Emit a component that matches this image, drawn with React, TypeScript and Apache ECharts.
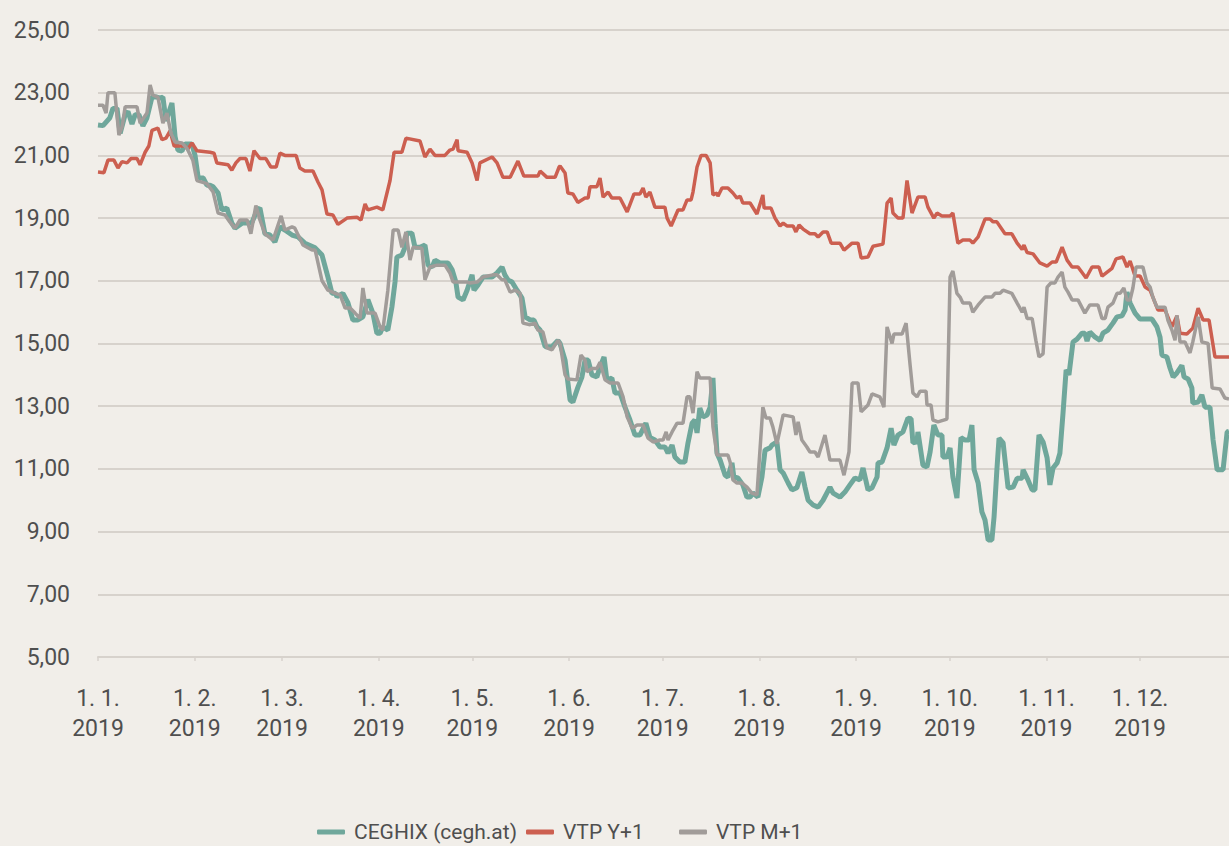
import React, { useEffect, useRef } from "react";
import * as echarts from "echarts";

// Day index (0 = 1 Jan 2019) of the first day of each month
const monthStarts = [0, 31, 59, 90, 120, 151, 181, 212, 243, 273, 304, 334];
const monthLabels = ["1. 1.", "1. 2.", "1. 3.", "1. 4.", "1. 5.", "1. 6.", "1. 7.", "1. 8.", "1. 9.", "1. 10.", "1. 11.", "1. 12."];
const yearLabel = "2019";

const seriesNames = ["CEGHIX (cegh.at)", "VTP Y+1", "VTP M+1"];

// [day of year, EUR/MWh]
const ceghix: [number, number][] = [
  [0,21.97],[1.6,21.95],[3.8,22.2],[4.8,22.5],[6.1,22.5],[7.1,21.7],[8.7,22.3],[9.6,22.4],[10.9,22.0],[11.9,22.3],[13.1,22.3],[14.4,21.94],[15.7,22.2],[17.3,22.86],[18.9,22.86],[19.9,22.83],[20.8,22.86],[21.8,22.1],[23.7,22.67],[24.7,21.6],[25.6,21.17],[26.9,21.14],[27.9,21.36],[30.1,21.36],[31.1,21.0],[32.1,20.3],[33.7,20.28],[34.9,20.05],[35.9,20.05],[36.9,20.0],[38.5,19.8],[39.7,19.26],[41.3,19.32],[42.9,18.84],[43.9,18.68],[46.2,18.84],[47.8,18.84],[49.4,18.87],[51,19.26],[51.9,19.32],[53.5,18.5],[55.1,18.46],[56.7,18.24],[58.3,18.72],[59.9,18.62],[62.2,18.46],[64.1,18.4],[66.3,18.2],[69.6,18.05],[71.8,17.82],[73.7,17.12],[75,16.6],[76,16.6],[76.6,16.5],[78.5,16.6],[80.1,16.3],[81.7,15.75],[83.3,15.75],[84.9,15.85],[86.5,16.4],[88.1,15.97],[89.4,15.33],[90.4,15.33],[91.3,15.53],[92.9,15.43],[94.2,16.16],[95.2,16.96],[95.8,17.76],[97.4,17.82],[98.4,18.07],[99,18.52],[100.6,18.52],[101.6,18.07],[103.2,18.07],[104.8,18.14],[105.8,17.5],[107.1,17.44],[108,17.66],[109.6,17.57],[112.2,17.57],[113.5,17.35],[114.7,16.96],[115.4,16.48],[117,16.39],[118.3,16.7],[119.9,17.19],[120.5,16.7],[121.8,16.87],[123.4,17.12],[126.3,17.12],[127.9,17.25],[129.5,17.44],[130.4,17.19],[131.4,17.03],[132.7,16.96],[134.3,16.7],[135.9,16.45],[136.9,15.85],[138.5,15.75],[139.7,15.75],[140.7,15.53],[141.7,15.43],[143.3,14.9],[145.5,14.9],[147.4,15.1],[148.1,15.0],[149.7,14.47],[151.3,13.2],[152.2,13.13],[153.8,13.6],[155.1,13.93],[156.1,14.47],[157.1,14.47],[158.3,14.0],[159.9,13.93],[160.9,14.25],[162.2,14.57],[163.1,13.84],[164.7,13.9],[165.7,13.42],[167.3,13.42],[168.9,12.97],[170.5,12.56],[172.1,12.08],[173.7,12.08],[175.6,12.46],[176.9,12.0],[178.5,11.92],[180.1,11.7],[181.7,11.7],[182.7,11.5],[184,11.76],[184.9,11.38],[186.5,11.22],[188.1,11.22],[189.1,11.83],[190.4,12.46],[191.3,12.56],[192,12.15],[192.9,12.94],[193.9,12.66],[195.2,12.72],[196.2,12.97],[197.1,13.9],[197.8,12.46],[198.4,11.5],[199.4,11.28],[201,10.8],[201.9,10.74],[203.2,11.19],[203.8,10.74],[205.1,10.71],[206.7,10.49],[208,10.1],[209,10.1],[209.9,10.23],[211.5,10.1],[212.8,10.74],[213.8,11.6],[215.4,11.67],[216,11.76],[217.6,11.86],[218.6,10.97],[219.6,10.87],[221.2,10.55],[222.4,10.33],[224,10.4],[225.6,10.9],[226.6,10.42],[227.6,10.0],[229.2,9.85],[230.8,9.78],[232.4,10.0],[234.6,10.42],[235.6,10.23],[237.8,10.1],[239.4,10.26],[241,10.49],[242.6,10.71],[244.2,10.65],[245.2,11.03],[246.8,10.33],[248.1,10.4],[249.7,10.74],[250,11.19],[251.3,11.22],[252.9,11.67],[254.2,12.3],[255.1,11.76],[256.4,12.08],[258,12.18],[259.6,12.62],[260.6,12.6],[261.2,11.83],[262.5,11.86],[262.8,12.18],[264.4,11.12],[265.7,11.06],[266.7,11.54],[267.9,12.4],[269.2,12.08],[270.5,12.08],[270.8,11.38],[272.1,11.38],[273.1,11.67],[274,10.74],[275.3,10.07],[276.6,12.0],[277.9,11.92],[279.2,11.92],[280.1,12.4],[280.8,10.97],[282.1,10.55],[283.3,9.63],[284.3,9.37],[285.3,8.73],[286.5,8.73],[287.2,9.47],[288.1,10.97],[288.8,11.98],[290.1,11.83],[291.7,10.39],[293.3,10.42],[294.6,10.7],[296.2,10.7],[296.5,10.97],[298.1,10.64],[299.4,10.33],[300.3,10.33],[301.6,12.08],[302.9,11.86],[304.2,11.35],[305.1,10.49],[306.1,11.03],[307.4,11.19],[308.3,11.5],[309.3,12.78],[310.3,14.16],[311.2,14.0],[312.5,15.05],[313.8,15.14],[315.4,15.33],[316.3,15.33],[317,15.08],[317.9,15.37],[319.6,15.2],[321.2,15.1],[322.1,15.33],[323.7,15.43],[325.3,15.65],[326.6,15.85],[328.2,15.88],[329.2,16.07],[329.8,16.64],[330.8,16.29],[332.4,15.97],[334,15.78],[337.8,15.78],[339.4,15.53],[340.4,15.2],[341,14.63],[342.6,14.57],[343.6,14.22],[344.6,13.93],[345.8,14.06],[347.4,14.3],[348.1,13.93],[349.4,13.87],[350.6,13.58],[350.9,13.1],[352.6,13.13],[353.8,13.36],[354.8,12.97],[356.4,12.97],[357.4,11.92],[358.7,10.97],[360.6,10.97],[361.9,12.18],[362.5,12.2]
];

const vtpY1: [number, number][] = [
  [0,20.47],[1.9,20.45],[3.2,20.85],[5.1,20.85],[6.4,20.6],[7.7,20.8],[9.3,20.76],[10.6,20.9],[12.5,20.9],[13.5,20.7],[15.1,21.1],[16.3,21.3],[17.3,21.8],[19.2,21.87],[20.5,21.5],[21.8,21.55],[23.1,21.78],[24.4,21.3],[27.9,21.3],[28.8,21.2],[30.1,21.4],[31.7,21.15],[35.9,21.1],[37.2,21.07],[38.1,20.76],[41.7,20.7],[42.9,20.53],[44.2,20.76],[45.5,20.9],[47.4,20.9],[48.7,20.5],[50,21.15],[51.9,20.9],[53.8,20.9],[55.4,20.63],[57.1,20.63],[58.3,21.07],[59.9,21.0],[63.5,21.0],[64.7,20.6],[66.3,20.5],[68.9,20.5],[70.5,20.15],[71.8,19.9],[73.4,19.13],[75.3,19.1],[76.9,18.8],[79.8,19.0],[83,19.03],[84.3,18.94],[85.6,19.45],[86.5,19.26],[89.4,19.35],[91.3,19.26],[93.6,20.2],[94.9,21.1],[97.4,21.1],[98.7,21.55],[103.2,21.46],[104.8,20.95],[106.4,21.2],[108,21.0],[111.2,21.0],[112.8,21.17],[113.8,21.2],[115.1,21.5],[115.4,21.15],[118.3,21.1],[119.9,20.76],[121.5,20.2],[122.4,20.76],[126.3,20.95],[127.9,20.76],[129.8,20.3],[132.1,20.3],[134.6,20.82],[136.5,20.34],[141,20.34],[141.7,20.5],[143.9,20.3],[146.5,20.3],[147.8,20.63],[148.1,20.66],[149.7,20.44],[150.6,19.8],[152.2,19.77],[153.8,19.5],[156.1,19.64],[157.1,19.64],[157.7,20.0],[159.9,20.0],[160.9,20.28],[161.9,19.67],[163.5,19.83],[164.7,19.64],[167.3,19.64],[169.6,19.2],[171.8,19.77],[173.7,19.77],[174.7,19.96],[175.6,19.67],[176.9,19.83],[178.5,19.35],[181.7,19.35],[182.4,19.0],[183.7,18.75],[185.9,19.26],[187.5,19.26],[188.8,19.58],[190.1,19.58],[190.7,19.83],[192,20.63],[193.3,21.0],[194.9,21.0],[196.2,20.76],[197.1,19.74],[198.4,19.8],[198.7,19.7],[200,19.96],[201.9,19.96],[203.5,19.8],[204.8,19.64],[205.8,19.7],[206.7,19.48],[209,19.48],[211.2,19.13],[213.1,19.74],[213.5,19.32],[215.7,19.32],[217,19.0],[218.6,18.75],[219.6,18.84],[220.8,18.75],[222.8,18.75],[223.7,18.56],[224.7,18.78],[226,18.65],[228.2,18.5],[229.8,18.5],[230.8,18.4],[232.4,18.56],[233.7,18.56],[235,18.2],[237.8,18.2],[239.1,17.98],[241.7,18.2],[243.6,18.2],[244.6,17.73],[246.8,17.76],[248.4,18.1],[251.6,18.17],[252.9,19.48],[254.2,19.64],[254.8,19.16],[256.4,19.0],[258,19.0],[259.3,20.2],[260.9,19.16],[262.8,19.67],[265.1,19.67],[266,19.35],[267.9,19.0],[268.9,19.16],[270.5,19.07],[273.1,19.07],[274,19.16],[275.6,18.2],[277.2,18.3],[279.5,18.3],[280.4,18.2],[282.1,18.4],[284.3,18.97],[285.9,18.97],[286.9,18.88],[288.1,18.88],[290.7,18.5],[292.9,18.5],[294.6,18.2],[296.2,18.0],[296.8,18.14],[297.8,17.9],[299.7,17.86],[301.9,17.57],[304.2,17.47],[305.8,17.6],[307.1,17.6],[309,18.07],[310.6,17.66],[312.2,17.44],[314.1,17.44],[316.7,17.09],[318.6,17.44],[320.8,17.44],[321.8,17.15],[325,17.4],[326.3,17.7],[328.5,17.76],[329.8,17.44],[330.8,17.63],[332.4,17.15],[334,17.15],[335.6,16.8],[337.2,16.7],[339.7,16.07],[342,16.07],[344.2,15.53],[345.8,15.88],[346.8,15.33],[349,15.3],[350.9,15.49],[352.6,16.13],[354.2,15.75],[356.1,15.75],[358,14.57],[362.5,14.57]
];

const vtpM1: [number, number][] = [
  [0,22.6],[1.6,22.6],[2.6,22.35],[3.2,23.0],[5.4,23.0],[6.7,21.65],[7.7,21.9],[8.7,22.55],[10.9,22.55],[12.5,22.55],[13.5,22.03],[15.7,22.35],[16.7,23.25],[17.6,22.92],[19.2,22.86],[20.8,22.03],[22.1,22.35],[23.4,21.7],[24.7,21.43],[26.9,21.4],[28.5,21.23],[30.4,20.85],[31.7,20.2],[33.3,20.15],[34.9,20.1],[36.9,19.83],[38.5,19.16],[40.7,19.1],[42.3,18.87],[43.9,18.68],[45.5,18.94],[47.8,18.94],[49,18.5],[50.6,19.4],[51.9,18.94],[53.5,18.5],[56.1,18.3],[58.7,19.07],[59.9,18.62],[62.2,18.72],[63.1,18.68],[65.7,18.14],[68.6,17.98],[69.6,17.98],[71.8,17.0],[73.7,16.7],[76,16.6],[77.6,16.55],[79.2,16.13],[80.8,16.13],[82.4,15.97],[84,15.8],[84.9,16.77],[86.2,15.97],[88.8,15.97],[90.4,15.53],[91.3,15.43],[92.9,16.7],[94.6,18.62],[96.2,18.62],[97.4,18.07],[98.7,18.56],[100,17.66],[101,18.07],[103.8,18.04],[104.8,17.03],[106.4,17.44],[108.7,17.5],[111.2,17.5],[112.8,17.25],[113.8,16.96],[116.7,16.96],[118.3,16.96],[119.2,16.93],[121.5,16.96],[123.4,17.12],[126.6,17.19],[127.9,17.19],[129.5,17.03],[130.4,17.03],[132.1,16.64],[133.7,16.7],[135.3,16.6],[136.2,15.65],[138.5,15.6],[140.1,15.65],[141,15.43],[142.6,15.37],[143.9,14.86],[145.5,14.8],[147.4,15.1],[148.1,15.0],[149.7,14.0],[150.6,13.87],[153.5,13.84],[154.8,14.63],[156.1,14.47],[156.7,14.1],[158.3,14.2],[159.9,14.2],[160.9,14.4],[162.5,13.84],[164.1,13.74],[166.7,13.74],[168.3,13.3],[169.6,12.66],[171.2,12.3],[172.8,12.4],[174.7,12.4],[176.3,11.98],[177.9,11.86],[180.1,11.92],[181.1,11.92],[182.1,12.18],[182.7,11.92],[184,12.18],[185.6,12.46],[187.5,12.46],[188.8,13.3],[189.7,13.3],[190.7,12.78],[192,14.1],[192.9,13.9],[196.2,13.9],[197.1,12.34],[198.4,11.44],[201.9,11.44],[202.6,11.22],[203.5,10.65],[204.8,10.55],[206.4,10.55],[208,10.42],[209.6,10.23],[211.2,10.17],[213.1,12.97],[214.1,12.62],[215.4,12.62],[216.3,12.34],[217.6,11.8],[219.6,12.72],[220.8,12.7],[222.8,12.66],[223.7,12.08],[224.4,12.5],[225.6,11.92],[227.2,11.7],[228.2,11.54],[229.8,11.54],[230.8,11.38],[233,12.08],[234.6,11.28],[237.8,11.28],[239.1,10.8],[240.7,11.54],[241.7,13.74],[243.6,13.74],[244.6,12.82],[246.8,13.04],[248.1,13.39],[250.6,13.3],[251.9,12.97],[252.9,15.53],[254.5,15.0],[255.1,15.3],[257.7,15.3],[259,15.65],[260.3,14.3],[261.2,13.42],[262.5,13.3],[263.5,13.48],[265.4,13.48],[265.7,13.04],[267,13.04],[267.6,12.56],[269.2,12.5],[272.1,12.59],[273.1,17.12],[274,17.31],[275.3,16.6],[276.3,16.48],[277.2,16.29],[279.5,16.29],[280.4,16.0],[282.1,16.23],[284.3,16.48],[286.5,16.48],[287.5,16.6],[289.1,16.6],[290.1,16.7],[292.9,16.6],[294.6,16.29],[296.2,16.0],[296.8,16.16],[297.8,15.8],[299.4,15.8],[300.6,15.1],[301.6,14.57],[302.9,14.67],[304.2,16.8],[305.4,16.93],[306.7,16.93],[307.7,17.12],[309,17.28],[309.9,16.8],[310.9,16.64],[312.2,16.39],[314.1,16.39],[316.3,15.97],[317.9,16.23],[320.5,16.23],[321.8,15.8],[322.8,15.8],[323.7,16.16],[325.3,16.29],[326.6,16.6],[327.6,16.6],[328.8,16.77],[329.8,16.39],[330.8,16.39],[331.7,16.77],[332.7,17.44],[334.9,17.44],[336.2,16.93],[337.2,16.8],[338.1,16.48],[339.4,16.16],[342,16.16],[342.9,15.75],[344.2,15.43],[345.2,15.1],[345.8,15.9],[346.8,15.05],[348.4,15.05],[350,14.7],[350.9,15.05],[352.6,15.85],[353.8,15.05],[355.8,15.0],[357.1,13.58],[359.6,13.55],[361.2,13.26],[362.5,13.23]
];

const colors = ["#6fa79b", "#cc5f50", "#a19c99"];
const gridColor = "#d7d2cc";
const textColor = "#4f4f4f";
const bg = "#f1eee9";
const labelFont = "Roboto, 'Noto Sans', sans-serif";

export default function App() {
  const ref = useRef<HTMLDivElement>(null);
  useEffect(() => {
    if (!ref.current) return;
    const chart = echarts.init(ref.current, undefined, { renderer: "svg" });
    const legendBase = {
      top: 820,
      padding: 0,
      icon: "roundRect",
      itemWidth: 28,
      itemHeight: 5,
      selectedMode: false,
      textStyle: { fontFamily: labelFont, fontSize: 21, lineHeight: 24, color: textColor, padding: [0, 0, 0, 4] },
    };
    const legendLefts = [317, 526, 679];
    chart.setOption({
      animation: false,
      backgroundColor: bg,
      grid: { left: 98, right: 0, top: 30, bottom: 189, containLabel: false },
      legend: seriesNames.map((n, i) => ({ ...legendBase, left: legendLefts[i], data: [n] })),
      xAxis: {
        type: "value",
        min: 0,
        max: 362.5,
        splitLine: { show: false },
        axisLine: { show: true, lineStyle: { color: gridColor, width: 2 } },
        axisTick: { show: true, customValues: monthStarts, length: 4, lineStyle: { color: gridColor, width: 1.5 } },
        axisLabel: {
          customValues: monthStarts,
          formatter: (v: number) => {
            const i = monthStarts.indexOf(Math.round(v));
            return i >= 0 ? `${monthLabels[i]}\n${yearLabel}` : "";
          },
          fontFamily: labelFont,
          fontSize: 23,
          lineHeight: 30,
          color: textColor,
          margin: 26,
          showMinLabel: true,
          showMaxLabel: true,
        },
      },
      yAxis: {
        type: "value",
        min: 5,
        max: 25,
        interval: 2,
        axisLine: { show: false },
        axisTick: { show: false },
        splitLine: { show: true, lineStyle: { color: gridColor, width: 2 } },
        axisLabel: {
          formatter: (v: number) => v.toFixed(2).replace(".", ","),
          fontFamily: labelFont,
          fontSize: 23,
          color: textColor,
          margin: 28,
          padding: [0, 0, 8, 0],
        },
      },
      series: [
        { name: seriesNames[0], type: "line", data: ceghix, showSymbol: false, symbol: "none", lineStyle: { color: colors[0], width: 5 }, itemStyle: { color: colors[0] }, z: 2 },
        { name: seriesNames[1], type: "line", data: vtpY1, showSymbol: false, symbol: "none", lineStyle: { color: colors[1], width: 3.5 }, itemStyle: { color: colors[1] }, z: 3 },
        { name: seriesNames[2], type: "line", data: vtpM1, showSymbol: false, symbol: "none", lineStyle: { color: colors[2], width: 3.5 }, itemStyle: { color: colors[2] }, z: 4 },
      ],
    });
    return () => chart.dispose();
  }, []);
  return <div ref={ref} style={{ position: "absolute", left: 0, top: 0, width: 1229, height: 846 }} />;
}
